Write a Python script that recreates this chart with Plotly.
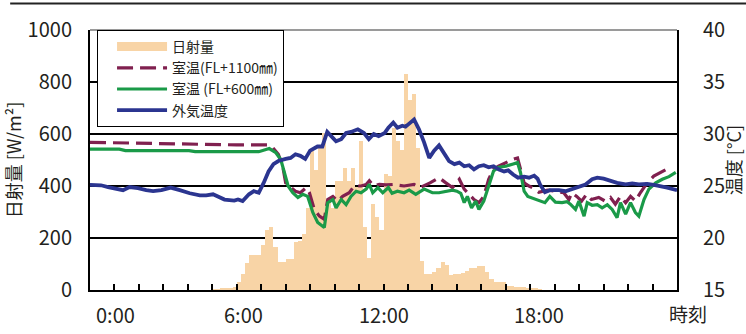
import plotly.graph_objects as go

# Solar radiation [W/m2], 10-minute totals starting at 5:00
solar_start_hour = 5.0
solar_step_hour = 1 / 6
solar_radiation = [
    2, 3, 4, 5, 7, 12,                      # 5:00
    30, 63, 102, 133, 133, 133,             # 6:00
    175, 230, 244, 165, 106, 106,           # 7:00
    120, 120, 183, 190, 217, 317,           # 8:00
    536, 460, 555, 602, 344, 317,           # 9:00
    421, 421, 471, 420, 471, 395,           # 10:00
    575, 241, 125, 332, 280, 229,           # 11:00
    447, 440, 625, 575, 540, 832,           # 12:00
    729, 755, 548, 113, 63, 63,             # 13:00
    70, 83, 106, 95, 56, 63,                # 14:00
    63, 65, 75, 83, 83, 94,                 # 15:00
    94, 68, 44, 29, 29, 29,                 # 16:00
    17, 17, 12, 12, 10, 8,                  # 17:00
    6, 4, 2,                                # 18:00
]

# Room temperature at FL+1100mm [deg C]
room_hi_hours = [
    0, 1, 2, 3, 4, 5, 5.9, 6.0, 7.3, 7.47, 7.7, 7.88, 8.0, 8.2, 8.4, 8.6,
    8.84, 8.97, 9.17, 9.38, 9.58, 9.72, 9.93, 10.13, 10.33, 10.6, 10.8,
    11.08, 11.29, 11.42, 11.6, 11.83, 12.1, 12.4, 12.84, 13.25, 13.5, 13.9,
    14.27, 14.55, 14.82, 15.1, 15.3, 15.5, 15.7, 15.9, 16.1, 16.3, 16.5,
    16.7, 17.0, 17.27, 17.48, 17.6, 17.75, 17.95, 18.08, 18.35, 18.7, 19.03,
    19.37, 19.58, 19.7, 19.9, 20.1, 20.3, 20.5, 20.8, 21.06, 21.28, 21.48,
    21.69, 21.9, 22.1, 22.3, 22.5, 22.78, 23.05, 23.3, 23.6,
]
room_hi_temp = [
    29.2, 29.15, 29.1, 29.05, 29.0, 28.95, 28.9, 28.95, 28.95, 28.7, 28.05,
    26.9, 25.3, 24.85, 24.5, 24.35, 24.85, 24.35, 22.75, 22.1, 21.8, 23.7,
    24.0, 23.55, 24.0, 24.35, 25.0, 25.0, 25.15, 25.5, 25.0, 25.15, 25.1,
    25.15, 25.0, 25.15, 24.85, 25.3, 25.8, 25.3, 24.85, 25.65, 24.7, 24.2,
    23.7, 23.4, 24.0, 25.65, 26.6, 26.9, 27.25, 27.55, 27.7, 26.6, 25.3,
    25.0, 24.85, 24.4, 24.6, 24.5, 24.35, 23.7, 24.35, 24.0, 23.55, 24.2,
    23.7, 23.9, 23.55, 23.9, 23.25, 24.0, 23.4, 24.0, 23.55, 24.35, 25.3,
    25.95, 26.3, 26.65,
]

# Room temperature at FL+600mm [deg C]
room_lo_hours = [
    0, 1.2, 1.45, 4.05, 4.3, 6.9, 7.33, 7.6, 7.8, 7.95, 8.1, 8.29, 8.5, 8.7,
    8.9, 9.11, 9.31, 9.58, 9.72, 9.93, 10.06, 10.27, 10.47, 10.67, 10.88,
    11.08, 11.29, 11.42, 11.56, 11.77, 11.97, 12.2, 12.35, 12.57, 12.84,
    13.05, 13.32, 13.66, 14.0, 14.27, 14.55, 14.82, 15.0, 15.16, 15.3, 15.43,
    15.6, 15.77, 15.9, 16.1, 16.3, 16.5, 16.7, 17.0, 17.27, 17.48, 17.6,
    17.75, 17.9, 18.08, 18.35, 18.6, 18.8, 19.03, 19.3, 19.5, 19.64, 19.85,
    19.99, 20.2, 20.33, 20.53, 20.74, 20.94, 21.15, 21.35, 21.55, 21.69,
    21.9, 22.1, 22.3, 22.44, 22.65, 22.85, 23.13, 23.4, 23.67, 23.95,
]
room_lo_temp = [
    28.55, 28.55, 28.4, 28.4, 28.3, 28.3, 28.6, 28.2, 27.55, 26.3, 25.0,
    24.35, 23.9, 24.2, 24.0, 22.45, 21.5, 21.0, 23.4, 23.7, 22.9, 23.7, 23.2,
    24.0, 24.5, 24.35, 24.7, 25.15, 24.35, 24.85, 24.35, 24.85, 24.3, 24.5,
    24.35, 24.6, 24.2, 24.7, 24.35, 24.35, 24.5, 24.6, 24.5, 24.3, 23.4,
    24.0, 22.9, 23.55, 22.75, 23.55, 25.0, 26.45, 26.8, 26.9, 27.1, 27.25,
    26.3, 24.5, 24.0, 23.85, 23.55, 23.4, 24.0, 23.45, 23.4, 23.5, 23.25,
    22.75, 23.55, 22.1, 23.4, 23.15, 23.2, 22.9, 23.2, 22.75, 21.95, 23.4,
    22.3, 23.4, 22.45, 22.1, 23.7, 24.7, 25.3, 25.65, 25.9, 26.3,
]

# Outdoor air temperature [deg C]
outdoor_hours = [
    0.0, 0.45, 0.74, 1.15, 1.35, 1.62, 1.96, 2.3, 2.58, 2.92, 3.3, 3.67,
    4.08, 4.49, 4.75, 5.03, 5.24, 5.5, 5.9, 6.05, 6.24, 6.5, 6.7, 6.9, 7.1,
    7.3, 7.5, 7.7, 8.0, 8.2, 8.4, 8.6, 8.8, 9.0, 9.3, 9.5, 9.7, 9.86, 10.06,
    10.27, 10.47, 10.67, 10.95, 11.2, 11.4, 11.6, 11.8, 12.05, 12.2, 12.4,
    12.57, 12.77, 12.9, 13.05, 13.25, 13.45, 13.66, 13.87, 14.07, 14.27,
    14.48, 14.68, 14.9, 15.1, 15.3, 15.5, 15.7, 15.9, 16.1, 16.3, 16.5, 16.7,
    16.93, 17.1, 17.3, 17.5, 17.75, 17.95, 18.16, 18.3, 18.4, 18.6, 18.8,
    19.17, 19.44, 19.7, 19.99, 20.26, 20.53, 20.74, 21.0, 21.28, 21.55, 21.9,
    22.17, 22.44, 22.78, 23.05, 23.3, 23.6, 24.0,
]
outdoor_temp = [
    25.1, 25.07, 24.9, 24.7, 24.6, 24.9, 24.8, 24.6, 24.5, 24.6, 24.85, 24.6,
    24.3, 24.1, 24.1, 24.2, 24.0, 23.7, 23.6, 23.7, 23.55, 24.2, 24.5, 24.35,
    25.3, 26.4, 27.1, 27.4, 27.6, 27.7, 28.05, 27.9, 27.6, 28.4, 28.8, 28.8,
    30.2, 29.8, 29.3, 29.5, 30.1, 30.2, 30.45, 30.1, 29.5, 30.0, 29.8, 30.1,
    30.6, 31.1, 30.6, 30.8, 30.7, 31.0, 31.4, 30.45, 29.2, 27.7, 28.4, 28.9,
    28.05, 27.4, 27.1, 27.25, 26.9, 27.0, 26.6, 26.9, 27.0, 26.8, 26.9, 26.6,
    26.4, 26.5, 26.1, 25.8, 25.9, 25.8, 26.0, 25.7, 25.15, 24.4, 24.6, 24.6,
    24.5, 24.7, 24.9, 25.15, 25.65, 25.8, 25.7, 25.5, 25.3, 25.15, 25.25,
    25.15, 25.2, 25.1, 25.0, 24.85, 24.6,
]

hour_ticks = list(range(0, 25))
# time-of-day captions under the axis, set as text boxes (paper x positions)
time_labels = ["0:00", "6:00", "12:00", "18:00", "時刻"]
time_label_x = [0.043, 0.261, 0.501, 0.765, 1.019]
solar_ticks = [0, 200, 400, 600, 800, 1000]
temp_ticks = [15, 20, 25, 30, 35, 40]

FONT = "Noto Sans CJK JP, Liberation Sans, sans-serif"
TXT = "#231f20"
SOLAR_COLOR = "#F8D4A6"

solar_hours = [solar_start_hour + (i + 0.5) * solar_step_hour
               for i in range(len(solar_radiation))]

fig = go.Figure()
fig.add_trace(go.Bar(
    x=solar_hours, y=solar_radiation, width=solar_step_hour,
    name="日射量", marker=dict(color=SOLAR_COLOR, line=dict(width=0)),
    yaxis="y", showlegend=False, legendgroup="solar",
))
# legend key for the radiation bars, drawn as a wide band
fig.add_trace(go.Scatter(
    x=[None], y=[None], mode="lines", name="日射量", legendgroup="solar",
    line=dict(color=SOLAR_COLOR, width=9), yaxis="y",
))
fig.add_trace(go.Scatter(
    x=room_hi_hours, y=room_hi_temp, mode="lines", name="室温(FL+1100㎜)",
    line=dict(color="#80204F", width=3.2, dash="16px,7px"), yaxis="y2",
))
fig.add_trace(go.Scatter(
    x=room_lo_hours, y=room_lo_temp, mode="lines", name="室温 (FL+600㎜)",
    line=dict(color="#1A9A48", width=3.2), yaxis="y2",
))
fig.add_trace(go.Scatter(
    x=outdoor_hours, y=outdoor_temp, mode="lines", name="外気温度",
    line=dict(color="#2B3590", width=3.8), yaxis="y2",
))

fig.update_layout(
    width=746, height=334,
    margin=dict(l=90, r=69, t=30, b=44),
    paper_bgcolor="white", plot_bgcolor="white",
    font=dict(family=FONT, color=TXT, size=20),
    bargap=0,
    showlegend=True,
    legend=dict(
        x=0.012, y=1, xanchor="left", yanchor="top",
        bgcolor="white", bordercolor="#000000", borderwidth=1,
        font=dict(family=FONT, size=14, color=TXT),
        itemwidth=50, indentation=14, tracegroupgap=0,
    ),
    xaxis=dict(
        range=[0, 24], tickvals=hour_ticks, showticklabels=False,
        ticks="inside", ticklen=6, tickwidth=1.5, tickcolor="#000",
        showline=True, linecolor="#000", linewidth=2,
        showgrid=False, zeroline=False, automargin=False,
    ),
    yaxis=dict(
        range=[0, 1000], tickvals=solar_ticks,
        showline=True, linecolor="#000", linewidth=2,
        showgrid=True, gridcolor="#000", gridwidth=1.6, zeroline=False,
        ticks="", ticklabelstandoff=12, tickfont=dict(size=20),
        title=dict(text="日射量 [W/m²]", font=dict(size=18), standoff=6),
        automargin=False,
    ),
    yaxis2=dict(
        range=[15, 40], tickvals=temp_ticks, overlaying="y", side="right",
        showline=True, linecolor="#000", linewidth=2,
        showgrid=False, zeroline=False,
        ticks="", ticklabelstandoff=20, tickfont=dict(size=20),
        title=dict(text="温度 [°C]", font=dict(size=18), standoff=4),
        automargin=False,
    ),
    shapes=[
        # grey frame edge along the top of the plot area
        dict(type="line", xref="paper", yref="paper", x0=0, x1=1, y0=1, y1=1,
             line=dict(color="#9a9a9a", width=2), layer="above"),
        # rule across the top of the page
        dict(type="line", xref="paper", yref="paper", x0=-0.136, x1=1.12,
             y0=1.102, y1=1.102, line=dict(color="#222", width=2)),
    ],
    annotations=[
        dict(text=t, xref="paper", yref="paper", x=x, y=-0.03,
             xanchor="center", yanchor="top", showarrow=False,
             font=dict(family=FONT, size=20 if t != "時刻" else 19, color=TXT))
        for t, x in zip(time_labels, time_label_x)
    ],
)

fig.write_html("out.html")
